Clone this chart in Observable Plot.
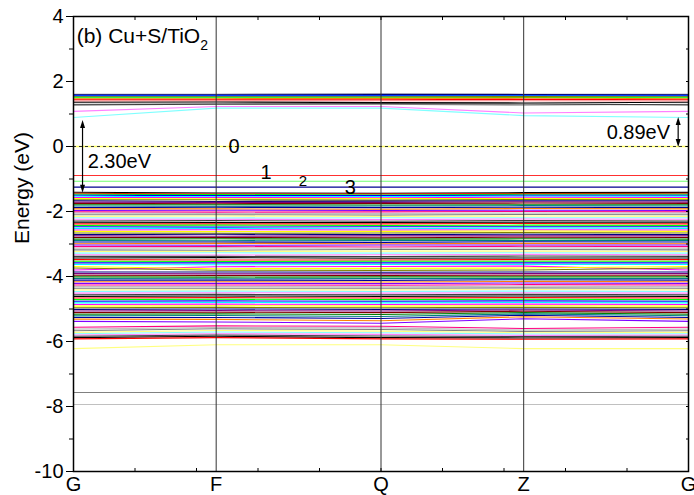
<!DOCTYPE html>
<html><head><meta charset="utf-8">
<script src="https://cdn.jsdelivr.net/npm/d3@7"></script>
<script src="https://cdn.jsdelivr.net/npm/@observablehq/plot@0.6"></script>
<style>body{margin:0;background:#fff}</style>
</head><body><div id="chart"></div>
<script>
// k-path
const kLabels = ["G", "F", "Q", "Z", "G"];
const kPos = [0, 0.232, 0.5, 0.732, 1];
const xMinor = [0.1, 0.2, 0.3, 0.4, 0.5, 0.6, 0.7, 0.8, 0.9];
const yMajor = [-10, -8, -6, -4, -2, 0, 2, 4];
const yMinor = [-9, -7, -5, -3, -1, 1, 3];

// band energies (eV) at G, F, Q, Z, G
const conductionBands = [
  [1.61, 1.61, 1.62, 1.61, 1.61],
  [1.59, 1.59, 1.60, 1.60, 1.59],
  [1.57, 1.57, 1.57, 1.57, 1.57],
  [1.55, 1.55, 1.55, 1.56, 1.55],
  [1.53, 1.53, 1.53, 1.54, 1.53],
  [1.50, 1.50, 1.50, 1.51, 1.50],
  [1.47, 1.47, 1.48, 1.49, 1.47],
  [1.44, 1.44, 1.44, 1.45, 1.44],
  [1.40, 1.41, 1.41, 1.41, 1.40],
  [1.36, 1.37, 1.35, 1.34, 1.36],
  [1.30, 1.32, 1.30, 1.27, 1.30],
  [1.28, 1.30, 1.32, 1.31, 1.28],
  [1.08, 1.23, 1.23, 1.03, 1.08],
  [0.89, 1.18, 1.18, 0.95, 0.89]
];
const conductionColors = ["#8080a0", "#000080", "#0000ff", "#0080ff", "#808000", "#00ff00", "#ff8000", "#ff0000", "#ff8080", "#000000", "#a0a0a0", "#404040", "#ff80ff", "#80ffff"];

const gapStates = [
  [-0.89, -0.89, -0.89, -0.89, -0.89],
  [-1.07, -1.07, -1.07, -1.07, -1.07],
  [-1.25, -1.25, -1.25, -1.25, -1.25]
];
const gapColors = ["#ff3030", "#70ff70", "#000090"];

const valenceBands = [
  [-1.41, -1.43, -1.44, -1.42, -1.41],
  [-1.44, -1.46, -1.46, -1.45, -1.44],
  [-1.47, -1.48, -1.49, -1.47, -1.47],
  [-1.50, -1.51, -1.51, -1.50, -1.50],
  [-1.53, -1.55, -1.54, -1.53, -1.53],
  [-1.57, -1.57, -1.58, -1.56, -1.57],
  [-1.60, -1.61, -1.60, -1.60, -1.60],
  [-1.64, -1.64, -1.65, -1.63, -1.64],
  [-1.67, -1.69, -1.68, -1.67, -1.67],
  [-1.71, -1.72, -1.72, -1.70, -1.71],
  [-1.75, -1.76, -1.75, -1.74, -1.75],
  [-1.79, -1.79, -1.80, -1.79, -1.79],
  [-1.83, -1.84, -1.83, -1.82, -1.83],
  [-1.88, -1.87, -1.88, -1.87, -1.88],
  [-1.92, -1.92, -1.93, -1.91, -1.92],
  [-1.97, -1.96, -1.97, -1.96, -1.97],
  [-2.01, -2.02, -2.01, -2.00, -2.01],
  [-2.05, -2.06, -2.06, -2.05, -2.05],
  [-2.10, -2.10, -2.11, -2.09, -2.10],
  [-2.15, -2.14, -2.15, -2.14, -2.15],
  [-2.19, -2.20, -2.19, -2.19, -2.19],
  [-2.24, -2.24, -2.25, -2.23, -2.24],
  [-2.29, -2.28, -2.30, -2.28, -2.29],
  [-2.33, -2.34, -2.34, -2.33, -2.33],
  [-2.38, -2.38, -2.38, -2.37, -2.38],
  [-2.43, -2.42, -2.43, -2.42, -2.43],
  [-2.47, -2.48, -2.47, -2.47, -2.47],
  [-2.52, -2.52, -2.53, -2.51, -2.52],
  [-2.57, -2.56, -2.57, -2.56, -2.57],
  [-2.61, -2.62, -2.61, -2.60, -2.61],
  [-2.66, -2.67, -2.66, -2.65, -2.66],
  [-2.71, -2.70, -2.71, -2.70, -2.71],
  [-2.75, -2.76, -2.75, -2.75, -2.75],
  [-2.80, -2.80, -2.81, -2.79, -2.80],
  [-2.85, -2.84, -2.85, -2.84, -2.85],
  [-2.89, -2.90, -2.89, -2.89, -2.89],
  [-2.94, -2.94, -2.95, -2.93, -2.94],
  [-2.99, -2.98, -2.99, -2.98, -2.99],
  [-3.03, -3.04, -3.03, -3.03, -3.03],
  [-3.08, -3.08, -3.09, -3.07, -3.08],
  [-3.13, -3.12, -3.13, -3.12, -3.13],
  [-3.18, -3.19, -3.17, -3.17, -3.18],
  [-3.23, -3.23, -3.22, -3.22, -3.23],
  [-3.28, -3.27, -3.28, -3.27, -3.28],
  [-3.33, -3.34, -3.33, -3.32, -3.33],
  [-3.38, -3.38, -3.39, -3.37, -3.38],
  [-3.43, -3.42, -3.44, -3.43, -3.43],
  [-3.48, -3.49, -3.49, -3.48, -3.48],
  [-3.53, -3.54, -3.53, -3.53, -3.53],
  [-3.58, -3.58, -3.58, -3.58, -3.58],
  [-3.63, -3.64, -3.63, -3.63, -3.63],
  [-3.80, -3.70, -3.69, -3.68, -3.80],
  [-3.69, -3.76, -3.75, -3.74, -3.69],
  [-3.74, -3.81, -3.81, -3.80, -3.74],
  [-3.86, -3.86, -3.87, -3.86, -3.86],
  [-3.91, -3.92, -3.92, -3.91, -3.91],
  [-3.96, -3.97, -3.97, -3.96, -3.96],
  [-4.01, -4.02, -4.01, -4.01, -4.01],
  [-4.06, -4.07, -4.06, -4.06, -4.06],
  [-4.11, -4.11, -4.12, -4.10, -4.11],
  [-4.16, -4.16, -4.17, -4.15, -4.16],
  [-4.21, -4.21, -4.22, -4.20, -4.21],
  [-4.26, -4.26, -4.27, -4.25, -4.26],
  [-4.31, -4.31, -4.32, -4.30, -4.31],
  [-4.36, -4.36, -4.36, -4.35, -4.36],
  [-4.41, -4.41, -4.41, -4.40, -4.41],
  [-4.46, -4.45, -4.46, -4.45, -4.46],
  [-4.51, -4.50, -4.51, -4.50, -4.51],
  [-4.56, -4.55, -4.56, -4.55, -4.56],
  [-4.61, -4.60, -4.61, -4.60, -4.61],
  [-4.66, -4.65, -4.66, -4.65, -4.66],
  [-4.71, -4.70, -4.71, -4.70, -4.71],
  [-4.76, -4.75, -4.76, -4.75, -4.76],
  [-4.81, -4.80, -4.81, -4.80, -4.81],
  [-4.86, -4.85, -4.86, -4.85, -4.86],
  [-4.91, -4.90, -4.91, -4.90, -4.91],
  [-4.96, -4.95, -4.96, -4.95, -4.96],
  [-5.01, -5.00, -5.01, -5.00, -5.01],
  [-5.06, -5.05, -5.06, -5.03, -5.06],
  [-5.11, -5.10, -5.11, -5.07, -5.11],
  [-5.16, -5.15, -5.17, -5.11, -5.16],
  [-5.21, -5.20, -5.23, -5.15, -5.21],
  [-5.26, -5.26, -5.29, -5.19, -5.26],
  [-5.31, -5.32, -5.36, -5.24, -5.31],
  [-5.38, -5.40, -5.44, -5.30, -5.38],
  [-5.56, -5.52, -5.53, -5.60, -5.56],
  [-5.62, -5.57, -5.58, -5.65, -5.62],
  [-5.67, -5.61, -5.63, -5.69, -5.67],
  [-5.72, -5.66, -5.68, -5.73, -5.72],
  [-5.76, -5.71, -5.73, -5.77, -5.76],
  [-5.80, -5.76, -5.78, -5.81, -5.80],
  [-5.84, -5.80, -5.83, -5.85, -5.84],
  [-5.88, -5.84, -5.88, -5.89, -5.88],
  [-5.92, -5.88, -5.92, -5.93, -5.92]
];
const deepBands = [
  [-6.22, -6.10, -6.10, -6.22, -6.22],
  [-7.57, -7.57, -7.57, -7.57, -7.57],
  [-7.94, -7.94, -7.94, -7.94, -7.94]
];
const deepColors = ["#ffff80", "#808080", "#c0c0c0"];
const fermiLevel = 0;

// Origin-like colour cycle for the valence bands
const palette = ["#000000", "#ff0000", "#00ff00", "#0000ff", "#00ffff", "#ff00ff", "#ffff00", "#808000", "#000080", "#800080", "#800000", "#008000", "#008080", "#0000a0", "#ff8000", "#8000ff", "#ff0080", "#c0c0c0", "#808080", "#ffff80", "#80ffff", "#ff80ff", "#404040"];

// annotations
const stateLabelText = ["0", "1", "2", "3"];
const stateLabelK = [0.261, 0.313, 0.373, 0.450];
const stateLabelE = [0.0, -0.80, -1.08, -1.26];
const stateLabelSize = [20, 20, 15, 20];
const gapText = ["2.30eV", "0.89eV"];
const gapTextK = [0.023, 0.970];
const gapTextE = [-0.47, 0.43];
const gapArrowK = [0.0155, 0.984];
const gapArrowTop = [0.80, 0.89];
const gapArrowBottom = [-1.44, -0.03];
const titleMain = "(b) Cu+S/TiO";
const titleSub = "2";
const titleK = 0.006;
const titleE = 3.17;

function toRows(bands, colorOf, prefix) {
  const rows = [];
  bands.forEach((b, i) => b.forEach((e, j) => rows.push({band: prefix + i, k: kPos[j], e, c: colorOf(i)})));
  return rows;
}
const rows = [
  ...toRows(deepBands, i => deepColors[i], "d"),
  ...toRows(valenceBands, i => palette[i % palette.length], "v"),
  ...toRows(conductionBands, i => conductionColors[i], "c"),
  ...toRows(gapStates, i => gapColors[i], "g")
];
const labelMap = new Map(kPos.map((k, i) => [k, kLabels[i]]));
const font = "'Liberation Sans', Arial, sans-serif";

const stateLabels = stateLabelText.map((t, i) => ({t, k: stateLabelK[i], e: stateLabelE[i], s: stateLabelSize[i]}));
const gapLabels = gapText.map((t, i) => ({t, k: gapTextK[i], e: gapTextE[i]}));

function arrowsMark(index, scales) {
  const g = d3.create("svg:g");
  gapArrowK.forEach((k, i) => {
    const x = scales.x(k), y1 = scales.y(gapArrowTop[i]), y2 = scales.y(gapArrowBottom[i]);
    g.append("line").attr("x1", x).attr("x2", x).attr("y1", y1 + 6).attr("y2", y2 - 6).attr("stroke", "black").attr("stroke-width", 1.2);
    g.append("path").attr("d", `M${x},${y1}L${x - 2.5},${y1 + 8}L${x + 2.5},${y1 + 8}Z`).attr("fill", "black");
    g.append("path").attr("d", `M${x},${y2}L${x - 2.5},${y2 - 8}L${x + 2.5},${y2 - 8}Z`).attr("fill", "black");
  });
  return g.node();
}
function titleMark(index, scales) {
  const t = d3.create("svg:text").attr("x", scales.x(titleK)).attr("y", scales.y(titleE))
    .attr("text-anchor", "start").attr("font-size", 21).attr("font-family", font).attr("fill", "black");
  t.append("tspan").text(titleMain);
  t.append("tspan").attr("font-size", 14).attr("dy", 7).text(titleSub);
  return t.node();
}

const chart = Plot.plot({
  width: 694, height: 495,
  marginLeft: 73, marginRight: 6, marginTop: 16, marginBottom: 24,
  x: {domain: [0, 1]},
  y: {domain: [-10, 4]},
  color: {type: "identity"},
  style: {fontFamily: font, fontSize: "20px", background: "white", color: "black", overflow: "visible"},
  marks: [
    Plot.ruleY([fermiLevel], {stroke: "#ffff60", strokeWidth: 1.5}),
    Plot.line(rows, {x: "k", y: "e", z: "band", stroke: "c", strokeWidth: 1.1}),
    Plot.ruleY([fermiLevel], {stroke: "#333", strokeWidth: 1, strokeDasharray: "3,3"}),
    Plot.ruleX(kPos.slice(1, -1), {stroke: "#333", strokeWidth: 1}),
    Plot.frame({stroke: "black", strokeWidth: 1.5}),
    Plot.axisY({ticks: yMajor, tickSize: 7, tickPadding: 3, tickFormat: d => String(d), label: null, fontSize: 20}),
    Plot.axisY({ticks: yMinor, tickSize: 4, tickFormat: () => "", label: null}),
    Plot.axisY({anchor: "right", ticks: yMajor.concat(yMinor), tickSize: -3, tickFormat: () => "", label: null}),
    Plot.axisX({ticks: kPos, tickSize: 0, tickPadding: 5, tickFormat: d => labelMap.get(d), label: null, fontSize: 20}),
    Plot.axisX({ticks: xMinor, tickSize: -3, tickFormat: () => "", label: null}),
    Plot.axisX({anchor: "top", ticks: xMinor, tickSize: -3, tickFormat: () => "", label: null}),
    Plot.text(["Energy (eV)"], {frameAnchor: "left", rotate: -90, dx: -51, fontSize: 21}),
    Plot.text(stateLabels, {x: "k", y: "e", text: "t", fontSize: d => d.s, fill: "black"}),
    Plot.text(gapLabels.slice(0, 1), {x: "k", y: "e", text: "t", textAnchor: "start", fontSize: 20, fill: "black"}),
    Plot.text(gapLabels.slice(1), {x: "k", y: "e", text: "t", textAnchor: "end", fontSize: 20, fill: "black"}),
    arrowsMark,
    titleMark
  ]
});
document.getElementById("chart").append(chart);
</script>
</body></html>
